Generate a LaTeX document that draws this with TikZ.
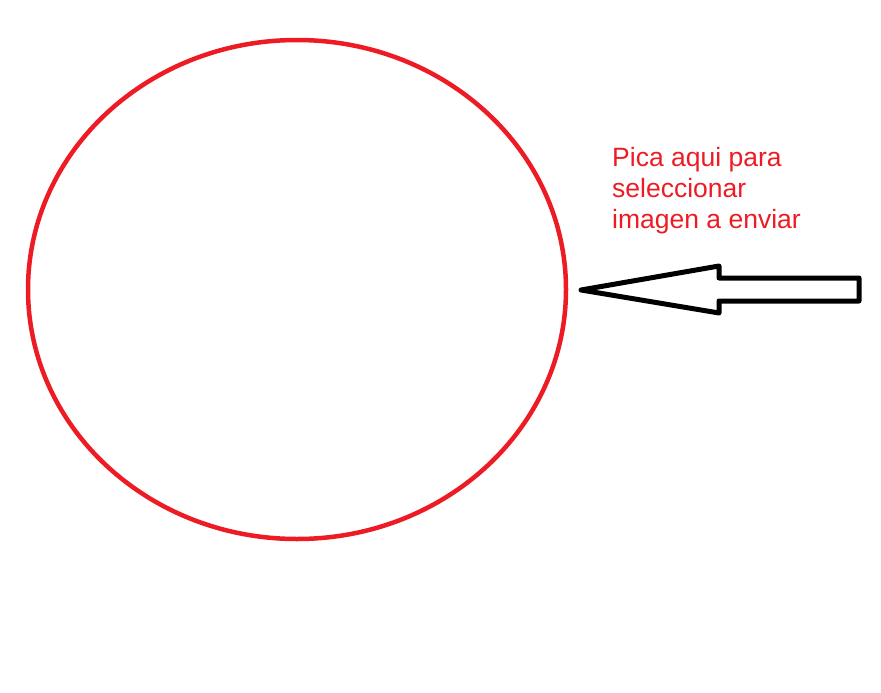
\documentclass[tikz,border=0pt]{standalone}
\usepackage{fontspec}
\setmainfont{Liberation Sans}
\definecolor{paintred}{HTML}{ED1C24}
\begin{document}
\begin{tikzpicture}[x=1pt,y=-1pt,
  ring/.style={draw=paintred,line width=4.5pt},
  bigarrow/.style={draw=black,line width=5pt,line join=round,fill=white},
  label/.style={text=paintred,font=\fontsize{26.5}{31}\selectfont,align=left,inner sep=0pt}]
\useasboundingbox (0,0) rectangle (881,693);
\draw[ring] (297,289.5) ellipse [x radius=269, y radius=249.5];
\draw[bigarrow] (581,290) -- (719,266) -- (719,278) -- (859,278) -- (859,301) -- (719,301) -- (719,313) -- cycle;
\node[label,anchor=base west] (txt) at (612,228) {Pica aqui para\\seleccionar\\imagen a enviar};
\end{tikzpicture}
\end{document}
